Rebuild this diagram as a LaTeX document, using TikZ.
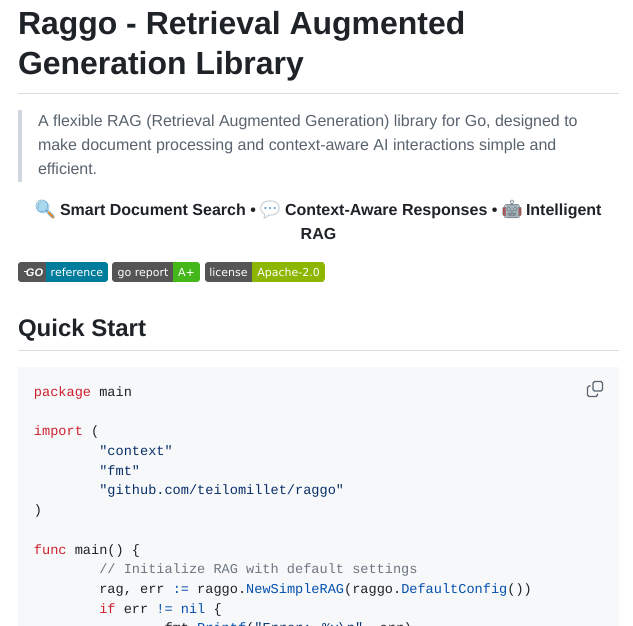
\documentclass[tikz,border=0pt]{standalone}
\usepackage{fontspec}
\setmainfont{Liberation Sans}
\newfontfamily\codefont{Liberation Mono}
\newfontfamily\badgefont{DejaVu Sans}
\newfontfamily\emojifont{Noto Emoji}
\usepackage{color}
\definecolor{Ink}{HTML}{1F2328}
\definecolor{Muted}{HTML}{59636E}
\definecolor{Rule}{HTML}{D8DEE4}
\definecolor{Bar}{HTML}{D0D7DE}
\definecolor{CodeBg}{HTML}{F6F8FA}
\definecolor{Kw}{HTML}{CF222E}
\definecolor{Fn}{HTML}{0550AE}
\definecolor{Str}{HTML}{0A3069}
\definecolor{Cmt}{HTML}{6E7781}
\definecolor{BadgeGrey}{HTML}{555555}
\definecolor{BadgeGo}{HTML}{007D9C}
\definecolor{BadgeAplus}{HTML}{44B81A}
\definecolor{BadgeLic}{HTML}{8DB600}
\definecolor{Lens}{HTML}{A9D8EE}
\definecolor{LensRim}{HTML}{6FA8C8}
\definecolor{Handle}{HTML}{E8912D}
\definecolor{Balloon}{HTML}{B8C4CC}
\definecolor{Dots}{HTML}{3F9BEA}
\definecolor{RobotHead}{HTML}{A3B4BC}
\definecolor{RobotEar}{HTML}{C8383A}
\newcommand{\px}[1]{\fontsize{#1}{#1}\selectfont}
\newcommand{\kw}[1]{\textcolor{Kw}{#1}}
\newcommand{\fn}[1]{\textcolor{Fn}{#1}}
\newcommand{\str}[1]{\textcolor{Str}{#1}}
\newcommand{\badgepill}[5]{%
  \begin{scope}
    \clip[rounded corners=3] (#1,262) rectangle (#3,282);
    \fill[BadgeGrey] (#1,262) rectangle (#2,282);
    \fill[#5] (#2,262) rectangle (#3,282);
  \end{scope}
  \node[badge, anchor=base] (#4) at (#2/2+#3/2,276) {\px{11}#4};
}
\begin{document}
\begin{tikzpicture}[x=1pt, y=-1pt]
          \tikzset{ txt/.style   ={inner sep=0pt, outer sep=0pt, anchor=base west, text=Ink} }
          \tikzset{ head/.style  ={txt, font=\bfseries} }
          \tikzset{ para/.style  ={txt, text=Muted} }
          \tikzset{ code/.style  ={txt, font=\codefont\px{13.6}} }
          \tikzset{ badge/.style ={inner sep=0pt, outer sep=0pt, text=white, font=\badgefont} }
          \tikzset{ emoji/.style ={inner sep=0pt, outer sep=0pt, anchor=center, font=\emojifont\px{18}} }

          \useasboundingbox (0,0) rectangle (633,626);
          \clip (0,0) rectangle (633,626);
          \fill[white] (0,0) rectangle (633,626);

          % title
          \node[head] (title1) at (18,35) {\px{31.95}Raggo - Retrieval Augmented};
          \node[head] (title2) at (18,75) {\px{31.95}Generation Library};
          \draw[Rule] (18,93.5) -- (619,93.5);

          % quote
          \fill[Bar] (18,110) rectangle (22,182);
          \node[para] (quote1) at (38,127) {\px{15.97}A flexible RAG (Retrieval Augmented Generation) library for Go, designed to};
          \node[para] (quote2) at (38,151) {\px{15.97}make document processing and context-aware AI interactions simple and};
          \node[para] (quote3) at (38,175) {\px{15.97}efficient.};

          % features
          \fill[Lens] (43,207) circle (6.5);
          \draw[Handle, line width=2.5pt, line cap=round] (48.5,212.5) -- (53.5,217.5);
          \node[emoji, text=LensRim] (search) at (45,209.5) {\symbol{"1F50D}};
          \node[head] (feat1) at (60,215) {\px{16}Smart Document Search •};
          \node[emoji, font=\emojifont\px{22}, text=Balloon] (speech) at (270,209.5) {\symbol{"1F4AC}};
          \fill[Dots] (265.5,208) circle (0.9) (270,208) circle (0.9) (274.5,208) circle (0.9);
          \node[head] (feat2) at (285,215) {\px{16}Context-Aware Responses •};
          \fill[RobotEar, rounded corners=1] (503,207) rectangle (521,216);
          \fill[RobotHead, rounded corners=1.5] (505.5,204) rectangle (518.5,218);
          \node[emoji, text=RobotHead!70!black] (robot) at (512,209.5) {\symbol{"1F916}};
          \node[head] (feat3) at (526,215) {\px{16}Intelligent};
          \node[head, anchor=base] (feat4) at (318.5,239) {\px{16}RAG};

          % badges
          \badgepill{18}{46}{108}{reference}{BadgeGo}
          \node[badge, anchor=base, font={\rmfamily\bfseries\itshape}] (golabel) at (34.5,276) {\px{11}GO};
          \draw[white, line width=0.7pt] (24,271.5) -- (27.5,271.5);
          \badgepill{112}{173}{200}{A+}{BadgeAplus}
          \node[badge, anchor=base] (goreport) at (143,276) {\px{11}go report};
          \badgepill{205}{252}{325}{Apache-2.0}{BadgeLic}
          \node[badge, anchor=base] (license) at (228.5,276) {\px{11}license};

          % section
          \node[head] (quick) at (18,336) {\px{24}Quick Start};
          \draw[Rule] (18,350.5) -- (619,350.5);

          % code block
          \fill[CodeBg] (18,367) rectangle (619,640);
          \node[code] (c1)  at (34,396.2)    {\kw{package} main};
          \node[code] (c2)  at (34,435.6)  {\kw{import} (};
          \node[code] (c3)  at (99.3,455.3) {\str{"context"}};
          \node[code] (c4)  at (99.3,475.1) {\str{"fmt"}};
          \node[code] (c5)  at (99.3,494.8) {\str{"github.com/teilomillet/raggo"}};
          \node[code] (c6)  at (34,514.5)  {)};
          \node[code] (c7)  at (34,554)  {\kw{func} main() \{};
          \node[code, text=Cmt] (c8) at (99.3,573.7) {// Initialize RAG with default settings};
          \node[code] (c9)  at (99.3,593.4) {rag, err \fn{:=} raggo.\fn{NewSimpleRAG}(raggo.\fn{DefaultConfig}())};
          \node[code] (c10) at (99.3,613.1) {\kw{if} err \fn{!=} \fn{nil} \{};
          \node[code] (c11) at (164.6,632.9) {fmt.\fn{Printf}(\str{"Error: \%v\textbackslash n"}, err)};

          % copy icon
          \draw[Muted, line width=1.1pt, rounded corners=1.5] (593,381.5) rectangle (602.5,391);
          \draw[Muted, line width=1.1pt, rounded corners=1.5] (590.5,386) -- (587.5,386) -- (587.5,396.5) -- (597.5,396.5) -- (597.5,393.5);
      \end{tikzpicture}
\end{document}
